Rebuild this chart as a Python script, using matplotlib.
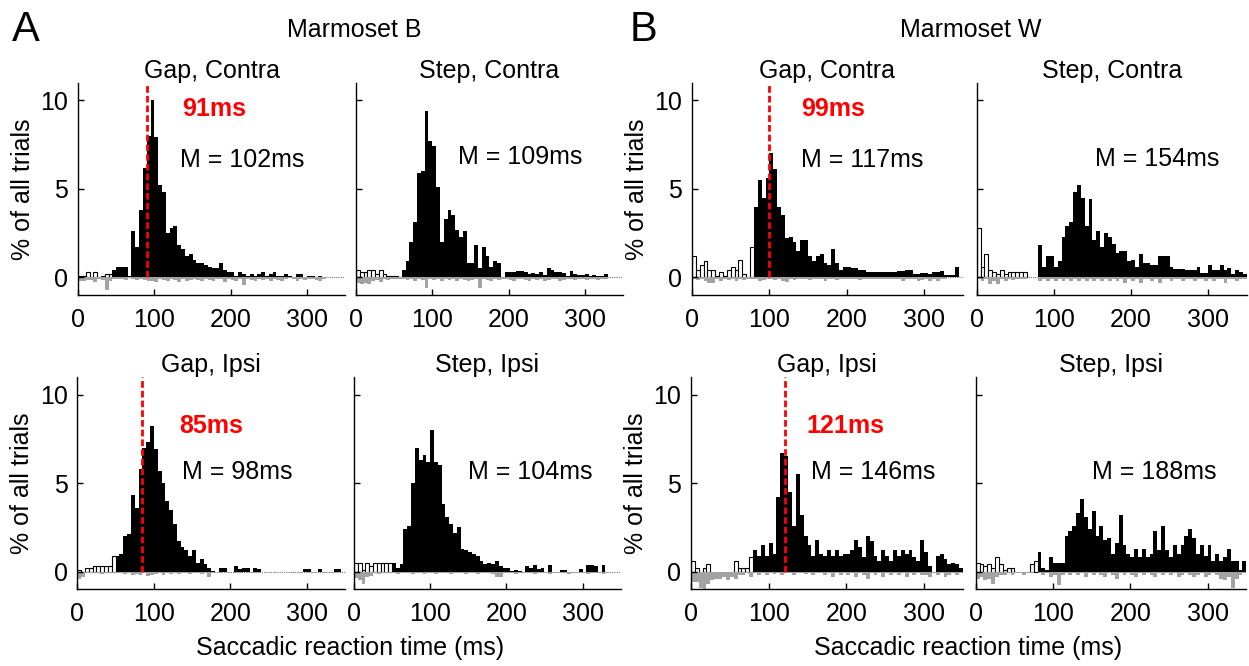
import numpy as np
import matplotlib
matplotlib.use("Agg")
import matplotlib.pyplot as plt

plt.rcParams['font.family'] = ['Liberation Sans', 'DejaVu Sans']

# 5 ms bins, 0-350 ms
bin_start_ms = list(range(0, 350, 5))
BIN_MS = 5

# % of all trials per bin: correct saccades (positive) and errors (plotted negative)
# Marmoset B, Gap, Contra
b_gap_contra = [0.1, 0.1, 0.3, 0.0, 0.3, 0.0, 0.1, 0.2, 0.2, 0.4,
                0.6, 0.6, 0.6, 0.1, 2.6, 1.7, 3.8, 6.2, 8.0, 10.0,
                7.9, 5.2, 4.8, 2.5, 2.8, 2.9, 1.8, 1.6, 1.2, 1.3,
                1.0, 0.8, 0.8, 0.7, 0.6, 0.5, 0.5, 0.8, 0.4, 0.3,
                0.3, 0.1, 0.3, 0.2, 0.1, 0.2, 0.1, 0.2, 0.3, 0.1,
                0.2, 0.3, 0.1, 0.1, 0.2, 0.1, 0.0, 0.2, 0.2, 0.0,
                0.1, 0.1, 0.0, 0.1, 0.0, 0.0, 0.0, 0.0, 0.0, 0.0]
b_gap_contra_err = [0.2, 0.2, 0.15, 0.15, 0.25, 0.1, 0.15, 0.7, 0.2, 0.1,
                    0.1, 0.1, 0.15, 0.05, 0.1, 0.15, 0.1, 0.15, 0.2, 0.2,
                    0.25, 0.1, 0.15, 0.2, 0.1, 0.15, 0.25, 0.1, 0.2, 0.15,
                    0.1, 0.15, 0.2, 0.1, 0.15, 0.2, 0.1, 0.1, 0.25, 0.1,
                    0.15, 0.2, 0.1, 0.45, 0.1, 0.15, 0.2, 0.1, 0.15, 0.1,
                    0.2, 0.1, 0.15, 0.2, 0.1, 0.05, 0.1, 0.2, 0.1, 0.15,
                    0.1, 0.1, 0.15, 0.2, 0.1, 0.0, 0.0, 0.0, 0.0, 0.0]

# Marmoset B, Step, Contra
b_step_contra = [0.4, 0.3, 0.3, 0.4, 0.4, 0.2, 0.4, 0.2, 0.1, 0.1,
                 0.1, 0.0, 0.4, 0.9, 2.0, 3.1, 5.9, 6.0, 9.4, 7.7,
                 7.4, 5.1, 2.0, 3.3, 3.8, 3.5, 2.7, 2.3, 2.6, 0.8,
                 0.8, 1.8, 0.5, 1.7, 1.2, 0.6, 0.9, 0.8, 0.0, 0.3,
                 0.3, 0.3, 0.35, 0.35, 0.3, 0.2, 0.25, 0.2, 0.3, 0.15,
                 0.55, 0.4, 0.3, 0.3, 0.25, 0.1, 0.35, 0.2, 0.15, 0.15,
                 0.2, 0.1, 0.15, 0.1, 0.1, 0.2, 0.0, 0.0, 0.0, 0.0]
b_step_contra_err = [0.3, 0.35, 0.3, 0.35, 0.2, 0.15, 0.25, 0.1, 0.15, 0.1,
                     0.1, 0.1, 0.1, 0.15, 0.1, 0.2, 0.1, 0.15, 0.6, 0.1,
                     0.15, 0.1, 0.2, 0.1, 0.15, 0.1, 0.2, 0.1, 0.15, 0.2,
                     0.15, 0.1, 0.6, 0.1, 0.15, 0.2, 0.1, 0.15, 0.1, 0.1,
                     0.15, 0.2, 0.1, 0.1, 0.15, 0.2, 0.1, 0.15, 0.1, 0.2,
                     0.15, 0.1, 0.1, 0.2, 0.15, 0.1, 0.1, 0.15, 0.1, 0.1,
                     0.15, 0.1, 0.1, 0.15, 0.1, 0.1, 0.0, 0.0, 0.0, 0.0]

# Marmoset W, Gap, Contra
w_gap_contra = [1.2, 0.4, 0.7, 0.9, 0.4, 0.4, 0.1, 0.3, 0.1, 0.4,
                0.6, 0.4, 1.0, 0.2, 0.0, 1.7, 4.0, 5.5, 4.5, 5.6,
                7.0, 6.1, 4.0, 3.5, 2.2, 2.3, 2.0, 1.5, 2.1, 2.1,
                1.2, 0.9, 1.2, 1.3, 0.8, 0.7, 1.6, 0.8, 0.4, 0.6,
                0.6, 0.5, 0.5, 0.4, 0.4, 0.3, 0.3, 0.3, 0.3, 0.3,
                0.3, 0.3, 0.3, 0.35, 0.35, 0.4, 0.4, 0.2, 0.2, 0.25,
                0.25, 0.2, 0.3, 0.3, 0.35, 0.15, 0.15, 0.15, 0.6, 0.0]
w_gap_contra_err = [0.1, 0.15, 0.1, 0.2, 0.3, 0.3, 0.1, 0.2, 0.1, 0.15,
                    0.1, 0.2, 0.1, 0.15, 0.1, 0.1, 0.1, 0.2, 0.15, 0.1,
                    0.1, 0.15, 0.1, 0.2, 0.25, 0.1, 0.15, 0.1, 0.1, 0.1,
                    0.15, 0.1, 0.1, 0.1, 0.2, 0.1, 0.1, 0.15, 0.1, 0.1,
                    0.1, 0.1, 0.1, 0.15, 0.1, 0.1, 0.1, 0.1, 0.1, 0.1,
                    0.1, 0.1, 0.1, 0.1, 0.2, 0.1, 0.1, 0.1, 0.2, 0.15,
                    0.1, 0.2, 0.1, 0.2, 0.1, 0.1, 0.0, 0.0, 0.0, 0.0]

# Marmoset W, Step, Contra
w_step_contra = [2.8, 0.6, 1.3, 0.4, 0.3, 0.2, 0.4, 0.2, 0.3, 0.3,
                 0.3, 0.3, 0.3, 0.0, 0.0, 0.0, 1.8, 0.6, 1.2, 1.2,
                 0.6, 0.9, 2.3, 2.9, 3.1, 4.8, 5.2, 4.5, 2.9, 4.4,
                 2.1, 2.6, 1.7, 2.5, 2.3, 1.9, 1.4, 1.5, 1.5, 0.9,
                 1.0, 0.6, 1.3, 0.8, 0.8, 0.7, 0.7, 1.2, 1.2, 1.2,
                 0.6, 0.45, 0.45, 0.45, 0.4, 0.4, 0.4, 0.6, 0.25, 0.25,
                 0.7, 0.4, 0.4, 0.7, 0.4, 0.5, 0.2, 0.4, 0.3, 0.2]
w_step_contra_err = [0.1, 0.2, 0.1, 0.35, 0.2, 0.4, 0.1, 0.2, 0.1, 0.15,
                     0.1, 0.1, 0.1, 0.0, 0.0, 0.0, 0.2, 0.1, 0.2, 0.1,
                     0.2, 0.1, 0.2, 0.1, 0.2, 0.1, 0.2, 0.1, 0.2, 0.1,
                     0.2, 0.1, 0.2, 0.1, 0.2, 0.1, 0.2, 0.1, 0.3, 0.1,
                     0.2, 0.1, 0.3, 0.1, 0.1, 0.2, 0.1, 0.3, 0.1, 0.1,
                     0.2, 0.1, 0.1, 0.2, 0.1, 0.1, 0.2, 0.1, 0.1, 0.2,
                     0.1, 0.2, 0.1, 0.1, 0.3, 0.1, 0.1, 0.2, 0.1, 0.1]

# Marmoset B, Gap, Ipsi
b_gap_ipsi = [0.1, 0.0, 0.2, 0.2, 0.3, 0.3, 0.3, 0.3, 0.3, 0.9,
              0.9, 1.0, 2.0, 2.1, 4.3, 3.6, 5.8, 7.0, 7.3, 8.2,
              6.9, 5.7, 5.0, 4.0, 3.5, 2.7, 1.7, 1.4, 1.2, 0.9,
              1.2, 0.5, 0.7, 0.4, 0.2, 0.05, 0.0, 0.2, 0.2, 0.0,
              0.0, 0.3, 0.15, 0.2, 0.2, 0.0, 0.2, 0.15, 0.0, 0.0,
              0.0, 0.0, 0.0, 0.0, 0.0, 0.0, 0.0, 0.0, 0.0, 0.15,
              0.15, 0.0, 0.0, 0.15, 0.0, 0.0, 0.0, 0.15, 0.15, 0.0]
b_gap_ipsi_err = [0.4, 0.3, 0.1, 0.1, 0.1, 0.1, 0.15, 0.1, 0.1, 0.1,
                  0.1, 0.1, 0.15, 0.1, 0.2, 0.15, 0.2, 0.1, 0.25, 0.2,
                  0.15, 0.1, 0.2, 0.1, 0.15, 0.1, 0.15, 0.1, 0.1, 0.15,
                  0.1, 0.1, 0.15, 0.1, 0.3, 0.1, 0.05, 0.1, 0.05, 0.1,
                  0.05, 0.1, 0.1, 0.05, 0.1, 0.1, 0.1, 0.1, 0.05, 0.05,
                  0.05, 0.1, 0.05, 0.05, 0.05, 0.05, 0.1, 0.05, 0.1, 0.05,
                  0.05, 0.1, 0.05, 0.05, 0.1, 0.05, 0.1, 0.1, 0.05, 0.0]

# Marmoset B, Step, Ipsi
b_step_ipsi = [0.5, 0.5, 0.1, 0.5, 0.3, 0.5, 0.5, 0.5, 0.5, 0.5,
               0.5, 0.2, 0.4, 2.4, 2.6, 5.0, 7.0, 6.3, 6.6, 6.2,
               8.0, 6.2, 6.0, 3.8, 3.1, 2.7, 2.2, 2.5, 1.3, 1.2,
               1.1, 1.0, 0.9, 0.6, 0.4, 0.5, 0.4, 0.6, 0.3, 0.2,
               0.2, 0.05, 0.1, 0.05, 0.0, 0.3, 0.2, 0.35, 0.15, 0.2,
               0.0, 0.35, 0.0, 0.0, 0.1, 0.1, 0.0, 0.0, 0.0, 0.15,
               0.0, 0.35, 0.35, 0.3, 0.0, 0.35, 0.0, 0.0, 0.0, 0.0]
b_step_ipsi_err = [0.35, 0.5, 0.7, 0.3, 0.25, 0.1, 0.15, 0.1, 0.1, 0.1,
                   0.1, 0.15, 0.1, 0.1, 0.1, 0.15, 0.1, 0.1, 0.15, 0.1,
                   0.1, 0.15, 0.1, 0.1, 0.1, 0.15, 0.1, 0.1, 0.1, 0.15,
                   0.1, 0.1, 0.15, 0.1, 0.1, 0.1, 0.15, 0.3, 0.3, 0.1,
                   0.1, 0.1, 0.15, 0.1, 0.1, 0.1, 0.1, 0.15, 0.1, 0.1,
                   0.1, 0.15, 0.1, 0.1, 0.1, 0.1, 0.15, 0.1, 0.1, 0.1,
                   0.1, 0.15, 0.1, 0.1, 0.1, 0.15, 0.1, 0.0, 0.0, 0.0]

# Marmoset W, Gap, Ipsi
w_gap_ipsi = [0.6, 0.2, 0.0, 0.2, 0.4, 0.0, 0.0, 0.0, 0.0, 0.0,
              0.0, 0.6, 0.2, 0.2, 0.2, 0.8, 1.2, 0.9, 1.5, 0.9,
              1.6, 1.0, 4.2, 6.7, 6.5, 4.5, 2.6, 5.5, 3.2, 2.0,
              1.5, 0.9, 1.8, 1.0, 0.9, 1.2, 0.9, 1.2, 0.9, 1.0,
              1.0, 1.2, 1.8, 1.4, 0.8, 2.0, 1.7, 0.9, 0.6, 1.2,
              0.9, 0.6, 1.2, 0.9, 1.2, 1.0, 1.2, 0.8, 0.6, 1.8,
              1.1, 0.3, 0.0, 0.9, 1.0, 0.7, 0.4, 0.5, 0.4, 0.2]
w_gap_ipsi_err = [0.6, 0.6, 0.9, 1.0, 0.7, 0.5, 0.4, 0.4, 0.3, 0.5,
                  0.3, 0.4, 0.2, 0.2, 0.1, 0.3, 0.1, 0.2, 0.1, 0.2,
                  0.1, 0.15, 0.1, 0.2, 0.1, 0.1, 0.2, 0.1, 0.1, 0.15,
                  0.1, 0.2, 0.1, 0.1, 0.2, 0.1, 0.3, 0.1, 0.2, 0.1,
                  0.2, 0.1, 0.3, 0.1, 0.2, 0.4, 0.1, 0.2, 0.1, 0.3,
                  0.1, 0.2, 0.1, 0.2, 0.1, 0.3, 0.1, 0.2, 0.1, 0.2,
                  0.2, 0.3, 0.1, 0.2, 0.1, 0.3, 0.2, 0.1, 0.2, 0.1]

# Marmoset W, Step, Ipsi
w_step_ipsi = [0.5, 0.4, 0.3, 0.4, 0.2, 0.8, 0.4, 0.1, 0.2, 0.2,
               0.0, 0.0, 0.0, 0.0, 0.4, 0.6, 1.1, 0.2, 0.1, 0.8,
               0.5, 0.5, 0.5, 2.0, 2.3, 2.6, 3.3, 4.1, 3.1, 2.4,
               3.4, 2.0, 2.6, 1.8, 1.9, 1.0, 1.6, 3.2, 1.5, 1.0,
               0.8, 1.3, 0.8, 1.3, 0.8, 1.0, 2.3, 1.2, 2.6, 1.2,
               0.8, 1.5, 1.0, 1.5, 2.0, 2.4, 1.9, 1.0, 1.5, 0.9,
               1.5, 0.6, 1.0, 0.6, 0.8, 1.3, 0.6, 0.6, 0.1, 0.6]
w_step_ipsi_err = [0.4, 0.3, 0.5, 0.4, 0.7, 0.3, 0.2, 0.2, 0.1, 0.2,
                   0.1, 0.1, 0.2, 0.1, 0.1, 0.05, 0.1, 0.2, 0.1, 0.3,
                   0.2, 0.75, 0.2, 0.1, 0.2, 0.1, 0.2, 0.1, 0.3, 0.1,
                   0.2, 0.1, 0.2, 0.3, 0.1, 0.2, 0.4, 0.1, 0.2, 0.1,
                   0.2, 0.3, 0.1, 0.2, 0.1, 0.2, 0.3, 0.1, 0.2, 0.1,
                   0.2, 0.1, 0.3, 0.2, 0.1, 0.2, 0.3, 0.2, 0.1, 0.3,
                   0.2, 0.1, 0.2, 0.4, 0.5, 0.3, 0.9, 0.4, 0.2, 0.1]

# anticipatory cut-off (ms) per panel; bins before it are drawn open
cutoff_ms = {'b_gc': 45, 'b_sc': 60, 'w_gc': 80, 'w_sc': 80,
             'b_gi': 50, 'b_si': 50, 'w_gi': 80, 'w_si': 80}
# express-saccade thresholds (ms) and medians (ms)
express_ms = {'b_gc': 91, 'w_gc': 99, 'b_gi': 85, 'w_gi': 121}
median_ms = {'b_gc': 102, 'b_sc': 109, 'w_gc': 117, 'w_sc': 154,
             'b_gi': 98, 'b_si': 104, 'w_gi': 146, 'w_si': 188}

FS = 18


def draw_panel(ax, pos, neg, cutoff, title, med, med_xy, thr=None, thr_xy=None, ylab=False):
    x = np.array(bin_start_ms, dtype=float)
    edges = np.append(x, x[-1] + BIN_MS)
    pos = np.array(pos)
    neg = np.array(neg)
    early = (x < cutoff) & (pos > 0)
    late = x >= cutoff
    # anticipatory saccades: open bars
    ax.bar(x[early], pos[early], width=BIN_MS, align='edge', facecolor='white',
           edgecolor='black', linewidth=0.8)
    # regular saccades: solid filled histogram
    ax.stairs(np.where(late, pos, 0), edges, fill=True, color='black', linewidth=0)
    # errors below zero
    ax.stairs(-neg, edges, fill=True, color='#a3a3a3', linewidth=0)
    ax.axhline(0, color='0.45', lw=0.8, ls=(0, (1, 1)), zorder=0.5)

    ax.set_xlim(0, 350)
    ax.set_ylim(-1, 11)
    ax.set_xticks([0, 100, 200, 300])
    ax.set_yticks([0, 5, 10])
    for s in ['top', 'right']:
        ax.spines[s].set_visible(False)
    for s in ['left', 'bottom']:
        ax.spines[s].set_linewidth(1.0)
    ax.tick_params(axis='both', direction='in', length=4, width=1, labelsize=FS)
    ax.tick_params(axis='x', pad=9)
    ax.tick_params(axis='y', pad=7)
    if ylab:
        ax.set_ylabel('% of all trials', fontsize=FS, labelpad=4)
    else:
        ax.set_yticklabels([])
    ax.set_title(title, fontsize=FS, pad=1)

    if thr is not None:
        ax.vlines(thr, 0, 11, colors='#ff0000', linewidth=2, linestyles=(0, (2.4, 1.1)), zorder=5)
        ax.text(thr_xy[0], thr_xy[1], f'{thr}ms', color='#ff0000', fontsize=FS,
                fontweight='bold', ha='left', va='center')
    ax.text(med_xy[0], med_xy[1], f'M = {med}ms', fontsize=FS, ha='left', va='center')


fig = plt.figure(figsize=(12.49, 6.66), dpi=100)

top_b, bot_b, h = 0.557, 0.1152, 0.319
ax1 = fig.add_axes([0.0625, top_b, 0.2138, h])
ax2 = fig.add_axes([0.285, top_b, 0.2138, h])
ax3 = fig.add_axes([0.554, top_b, 0.217, h])
ax4 = fig.add_axes([0.782, top_b, 0.2162, h])
ax5 = fig.add_axes([0.0619, bot_b, 0.2145, h])
ax6 = fig.add_axes([0.2834, bot_b, 0.2135, h])
ax7 = fig.add_axes([0.5532, bot_b, 0.2178, h])
ax8 = fig.add_axes([0.7812, bot_b, 0.2166, h])

draw_panel(ax1, b_gap_contra, b_gap_contra_err, cutoff_ms['b_gc'], 'Gap, Contra',
           median_ms['b_gc'], (134, 6.6), express_ms['b_gc'], (137, 9.5), ylab=True)
draw_panel(ax2, b_step_contra, b_step_contra_err, cutoff_ms['b_sc'], 'Step, Contra',
           median_ms['b_sc'], (134, 6.8))
draw_panel(ax3, w_gap_contra, w_gap_contra_err, cutoff_ms['w_gc'], 'Gap, Contra',
           median_ms['w_gc'], (141, 6.6), express_ms['w_gc'], (141, 9.5), ylab=True)
draw_panel(ax4, w_step_contra, w_step_contra_err, cutoff_ms['w_sc'], 'Step, Contra',
           median_ms['w_sc'], (153, 6.7))
draw_panel(ax5, b_gap_ipsi, b_gap_ipsi_err, cutoff_ms['b_gi'], 'Gap, Ipsi',
           median_ms['b_gi'], (137, 5.6), express_ms['b_gi'], (133, 8.2), ylab=True)
draw_panel(ax6, b_step_ipsi, b_step_ipsi_err, cutoff_ms['b_si'], 'Step, Ipsi',
           median_ms['b_si'], (150, 5.6))
draw_panel(ax7, w_gap_ipsi, w_gap_ipsi_err, cutoff_ms['w_gi'], 'Gap, Ipsi',
           median_ms['w_gi'], (155, 5.6), express_ms['w_gi'], (148, 8.2), ylab=True)
draw_panel(ax8, w_step_ipsi, w_step_ipsi_err, cutoff_ms['w_si'], 'Step, Ipsi',
           median_ms['w_si'], (150, 5.6))

fig.text(0.0095, 0.955, 'A', fontsize=30, ha='left', va='center')
fig.text(0.504, 0.955, 'B', fontsize=30, ha='left', va='center')
fig.text(0.284, 0.955, 'Marmoset B', fontsize=FS, ha='center', va='center')
fig.text(0.777, 0.955, 'Marmoset W', fontsize=FS, ha='center', va='center')
fig.text(0.2805, 0.027, 'Saccadic reaction time (ms)', fontsize=FS, ha='center', va='center')
fig.text(0.775, 0.027, 'Saccadic reaction time (ms)', fontsize=FS, ha='center', va='center')

fig.savefig('out.png', dpi=100)
